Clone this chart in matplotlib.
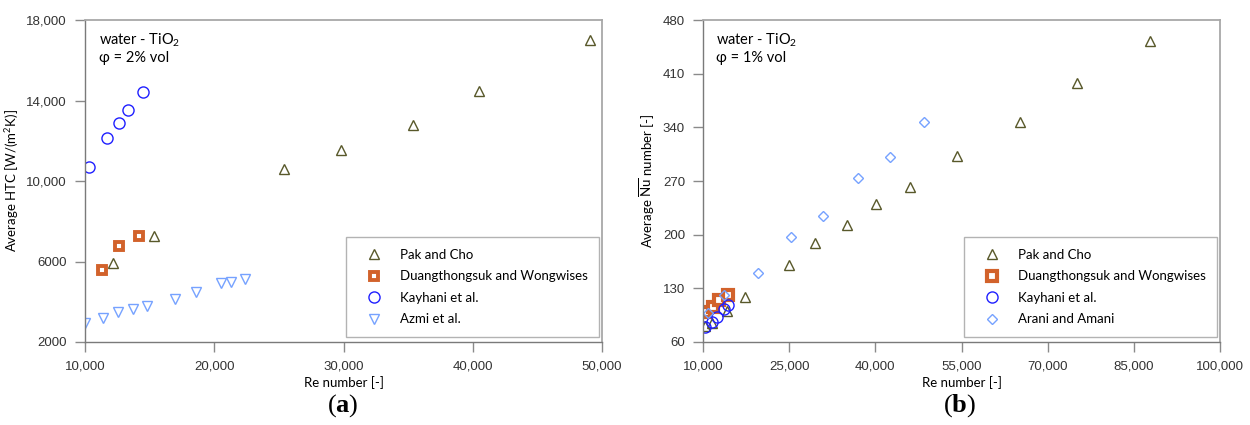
import matplotlib
matplotlib.use("Agg")
import matplotlib.pyplot as plt
from matplotlib.ticker import FuncFormatter

plt.rcParams['font.family'] = ['Lato', 'Open Sans', 'DejaVu Sans']
plt.rcParams['mathtext.fontset'] = 'custom'
plt.rcParams['mathtext.rm'] = 'Lato'
plt.rcParams['mathtext.bf'] = 'Liberation Serif:bold'

# ---- panel (a): average HTC, phi = 2% vol ----
pak_a_re = [12200, 15300, 25400, 29800, 35400, 40500, 49100]
pak_a_htc = [5950, 7250, 10600, 11550, 12800, 14450, 17000]
duang_a_re = [11300, 12650, 14200]
duang_a_htc = [5580, 6780, 7270]
kay_a_re = [10330, 11700, 12640, 13330, 14500]
kay_a_htc = [10700, 12150, 12900, 13540, 14440]
azmi_a_re = [10000, 11400, 12560, 13720, 14810, 16980, 18600, 20560, 21300, 22400]
azmi_a_htc = [2950, 3190, 3490, 3640, 3790, 4140, 4490, 4940, 4990, 5150]

# ---- panel (b): average Nu, phi = 1% vol ----
pak_b_re = [10350, 11520, 14230, 17370, 25040, 29500, 35030, 40150, 45970,
            54170, 65240, 75110, 87740]
pak_b_nu = [80.9, 84.4, 100.4, 119, 160.5, 189.5, 212, 240, 262.6,
            302, 346.5, 398, 453]
duang_b_re = [10350, 11790, 12840, 14300]
duang_b_nu = [99, 106, 114.8, 121.3]
kay_b_re = [10350, 11520, 12490, 13710, 14300]
kay_b_nu = [79.2, 86.5, 93, 103, 107.8]
arani_b_re = [10900, 13700, 19550, 25330, 30960, 37000, 42610, 48480]
arani_b_nu = [97.4, 121.3, 150.5, 196.5, 224.5, 273.5, 301, 347]

olive = '#58582a'
orange = '#d2622b'
blue = '#1f1fff'
lblue = '#76a2ff'


def fmt_num(v, pos):
    if abs(v) >= 10000:
        return f'{v:,.0f}'
    return f'{v:.0f}'


def style_axes(ax):
    for s in ['top', 'right']:
        ax.spines[s].set_color('#a8a8a8')
        ax.spines[s].set_linewidth(1.3)
    for s in ['left', 'bottom']:
        ax.spines[s].set_color('#7a7a7a')
        ax.spines[s].set_linewidth(1.0)
    ax.tick_params(direction='out', length=7, width=1, color='#8a8a8a',
                   labelsize=9.5, labelcolor='#333333', pad=6)
    for lab in ax.get_xticklabels() + ax.get_yticklabels():
        lab.set_family('Liberation Sans')
    ax.xaxis.set_major_formatter(FuncFormatter(fmt_num))
    ax.yaxis.set_major_formatter(FuncFormatter(fmt_num))


fig = plt.figure(figsize=(12.5, 4.25), dpi=100)
ax1 = fig.add_axes([0.068, 0.1953, 0.4136, 0.7576])
ax2 = fig.add_axes([0.5624, 0.1953, 0.4136, 0.7576])

open_kw = dict(linestyle='none', markerfacecolor='none', markeredgewidth=1.0)

ax1.plot(pak_a_re, pak_a_htc, marker='^', ms=7, markeredgecolor=olive,
         label='Pak and Cho', **open_kw)
ax1.plot(duang_a_re, duang_a_htc, marker='s', ms=6, linestyle='none',
         markerfacecolor='white', markeredgecolor=orange, markeredgewidth=2.8,
         label='Duangthongsuk and Wongwises')
ax1.plot(kay_a_re, kay_a_htc, marker='o', ms=8, markeredgecolor=blue,
         label='Kayhani et al.', **open_kw)
ax1.plot(azmi_a_re, azmi_a_htc, marker='v', ms=7, markeredgecolor=lblue,
         label='Azmi et al.', **open_kw)

ax1.set_xlim(10000, 50000)
ax1.set_ylim(2000, 18000)
ax1.set_xticks(range(10000, 50001, 10000))
ax1.set_yticks(range(2000, 18001, 4000))
style_axes(ax1)
ax1.set_xlabel('Re number [-]', fontsize=9.5, labelpad=3)
ax1.set_ylabel('Average HTC [W/(m$^\\mathrm{2}$K)]', fontsize=9.5, labelpad=4)
ax1.text(0.027, 0.938, 'water - TiO$_\\mathrm{2}$', transform=ax1.transAxes,
         fontsize=10.5, va='center')
ax1.text(0.027, 0.882, 'φ = 2% vol', transform=ax1.transAxes,
         fontsize=10.5, va='center')

ax2.plot(pak_b_re, pak_b_nu, marker='^', ms=7, markeredgecolor=olive,
         label='Pak and Cho', **open_kw)
ax2.plot(duang_b_re, duang_b_nu, marker='s', ms=6.5, linestyle='none',
         markerfacecolor='white', markeredgecolor=orange, markeredgewidth=3.0,
         label='Duangthongsuk and Wongwises')
ax2.plot(kay_b_re, kay_b_nu, marker='o', ms=8, markeredgecolor=blue,
         label='Kayhani et al.', **open_kw)
ax2.plot(arani_b_re, arani_b_nu, marker='D', ms=5.5, markeredgecolor=lblue,
         label='Arani and Amani', **open_kw)

ax2.set_xlim(10000, 100000)
ax2.set_ylim(60, 480)
ax2.set_xticks(range(10000, 100001, 15000))
ax2.set_yticks(range(60, 481, 70))
style_axes(ax2)
ax2.set_xlabel('Re number [-]', fontsize=9.5, labelpad=3)
ax2.set_ylabel('Average $\\overline{\\mathrm{Nu}}$ number [-]', fontsize=9.5,
               labelpad=4)
ax2.text(0.025, 0.938, 'water - TiO$_\\mathrm{2}$', transform=ax2.transAxes,
         fontsize=10.5, va='center')
ax2.text(0.025, 0.882, 'φ = 1% vol', transform=ax2.transAxes,
         fontsize=10.5, va='center')

for ax in (ax1, ax2):
    leg = ax.legend(loc='lower left', bbox_to_anchor=(0.505, 0.0155),
                    borderaxespad=0, fontsize=9.5, frameon=True, fancybox=False,
                    handlelength=2.4, handletextpad=0.75, borderpad=0.9,
                    labelspacing=0.72)
    leg.get_frame().set_edgecolor('#a0a0a0')
    leg.get_frame().set_linewidth(1.0)

fig.text(343 / 1250, 1 - 406 / 425, '($\\mathbf{a}$)', family='Liberation Serif',
         fontsize=19, ha='center', va='center')
fig.text(960 / 1250, 1 - 406 / 425, '($\\mathbf{b}$)', family='Liberation Serif',
         fontsize=19, ha='center', va='center')

fig.savefig('out.png', dpi=100)
